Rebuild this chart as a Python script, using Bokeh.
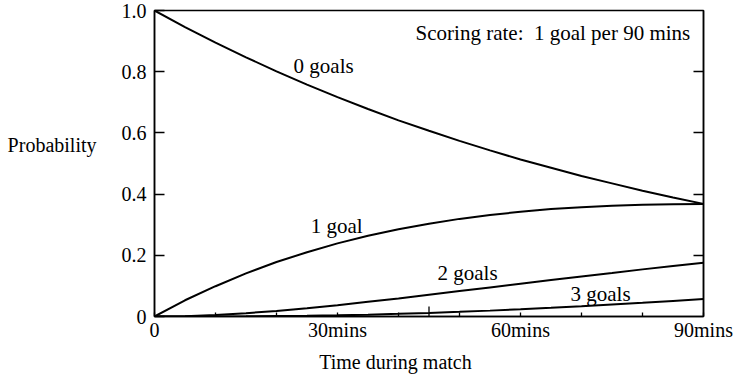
from bokeh.plotting import figure
from bokeh.models import (Range1d, FixedTicker, LinearAxis, Label, CustomJSTickFormatter)
from bokeh.embed import file_html
from bokeh.resources import INLINE

# ---- data ----
minutes = [0, 5, 10, 15, 20, 25, 30, 35, 40, 45, 50, 55, 60, 65, 70, 75, 80, 85, 90]
p0 = [1.0, 0.946, 0.895, 0.847, 0.801, 0.758, 0.717, 0.678, 0.641, 0.607, 0.574,
      0.543, 0.513, 0.486, 0.459, 0.435, 0.411, 0.389, 0.368]
p1 = [0.0, 0.053, 0.099, 0.141, 0.178, 0.210, 0.239, 0.264, 0.285, 0.303, 0.319,
      0.332, 0.342, 0.351, 0.357, 0.362, 0.365, 0.367, 0.368]
p2 = [0.0, 0.001, 0.005, 0.011, 0.018, 0.027, 0.037, 0.048, 0.059, 0.071, 0.083,
      0.095, 0.107, 0.119, 0.131, 0.142, 0.154, 0.165, 0.176]
p3 = [0.0, 0.0, 0.0002, 0.0006, 0.0014, 0.0025, 0.0041, 0.0061, 0.0087, 0.0117, 0.0153,
      0.0192, 0.0236, 0.0284, 0.0335, 0.039, 0.0447, 0.0508, 0.057]

x_ticks = [0, 30, 60, 90]
x_tick_labels = ["0", "30mins", "60mins", "90mins"]
x_minor = [10, 20, 40, 50, 70, 80]
half_time = [45]
y_ticks = [0, 0.2, 0.4, 0.6, 0.8, 1.0]
y_tick_labels = ["0", "0.2", "0.4", "0.6", "0.8", "1.0"]

curve_labels = ["0 goals", "1 goal", "2 goals", "3 goals"]
curve_label_x = [22.8, 25.6, 46.4, 68.2]
curve_label_y = [0.818, 0.295, 0.141, 0.075]

x_title = "Time during match"
x_title_pos = 39.5
y_title = "Probability"
y_title_pos = 0.56
note = "Scoring rate:\u00a0 1 goal per 90 mins"

FONT = "Liberation Serif"
FS = "20px"
FS_IN = "21px"

p = figure(width=734, height=378, x_range=Range1d(0, 90), y_range=Range1d(0, 1),
           output_backend="svg", toolbar_location=None,
           min_border_left=154, min_border_right=31, min_border_top=10, min_border_bottom=62)
p.grid.visible = False
p.outline_line_color = "black"
p.outline_line_width = 1.5
p.background_fill_color = "white"
p.border_fill_color = "white"

for ys in (p0, p1, p2, p3):
    p.line(minutes, ys, line_color="black", line_width=2)

# half-time tick
p.segment(x0=half_time, y0=[0], x1=half_time, y1=[0.033], line_color="black", line_width=1.3)

# x axis
xa = p.xaxis[0]
xa.ticker = FixedTicker(ticks=x_ticks, minor_ticks=x_minor)
xa.major_label_overrides = {t: l for t, l in zip(x_ticks, x_tick_labels)}
xa.major_tick_in = 4
xa.major_tick_out = 0
xa.minor_tick_in = 4
xa.minor_tick_out = 0
xa.major_label_standoff = 2
xa.major_label_text_font = FONT
xa.major_label_text_font_size = FS
xa.major_label_text_color = "black"
xa.axis_line_width = 1.5
xa.major_tick_line_width = 1.3
xa.minor_tick_line_width = 1.3

# y axis
ya = p.yaxis[0]
ya.ticker = FixedTicker(ticks=y_ticks, minor_ticks=[])
ya.major_label_overrides = {t: l for t, l in zip(y_ticks, y_tick_labels)}
ya.major_tick_in = 10
ya.major_tick_out = 0
ya.major_label_standoff = 8
ya.major_label_text_font = FONT
ya.major_label_text_font_size = FS
ya.major_label_text_color = "black"
ya.axis_line_width = 1.5
ya.major_tick_line_width = 1.3

# right axis: inward ticks only
ra = LinearAxis(ticker=FixedTicker(ticks=y_ticks[1:-1], minor_ticks=[]),
                formatter=CustomJSTickFormatter(code="return ''"),
                major_tick_in=10, major_tick_out=0, major_label_standoff=0,
                axis_line_width=1.5, major_tick_line_width=1.3)
p.add_layout(ra, "right")

# axis titles placed as single-tick axes (horizontal text at chosen data positions)
yt = LinearAxis(ticker=FixedTicker(ticks=[y_title_pos], minor_ticks=[]),
                major_label_overrides={y_title_pos: y_title},
                major_tick_in=0, major_tick_out=0, major_label_standoff=22,
                axis_line_color=None, major_tick_line_color=None,
                major_label_text_font=FONT, major_label_text_font_size=FS,
                major_label_text_color="black")
p.add_layout(yt, "left")

xt = LinearAxis(ticker=FixedTicker(ticks=[x_title_pos], minor_ticks=[]),
                major_label_overrides={x_title_pos: x_title},
                major_tick_in=0, major_tick_out=0, major_label_standoff=7,
                axis_line_color=None, major_tick_line_color=None,
                major_label_text_font=FONT, major_label_text_font_size=FS,
                major_label_text_color="black")
p.add_layout(xt, "below")

for t, x, y in zip(curve_labels, curve_label_x, curve_label_y):
    p.add_layout(Label(x=x, y=y, text=t, text_font=FONT, text_font_size=FS_IN,
                       text_baseline="middle", text_align="left", text_color="black"))

p.add_layout(Label(x=42.8, y=0.926, text=note, text_font=FONT,
                   text_font_size=FS_IN, text_baseline="middle", text_align="left",
                   text_color="black"))

open("out.html", "w").write(file_html(p, INLINE))
